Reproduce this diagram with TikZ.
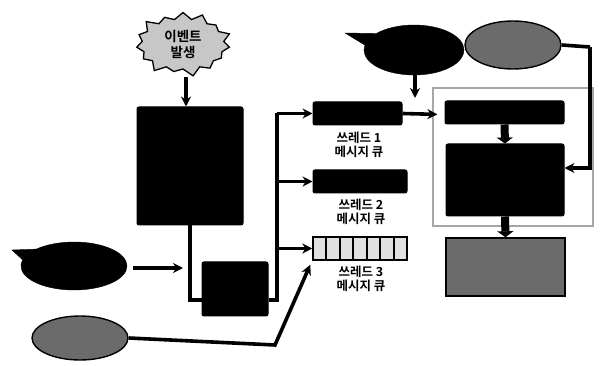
\documentclass[tikz,border=0pt]{standalone}
\usepackage{fontspec}
\newfontfamily\kr{Noto Sans CJK KR}[BoldFont={* Bold}]
\usetikzlibrary{shapes.symbols,shapes.callouts,shapes.geometric,arrows.meta,calc}
\tikzset{
  blk/.style={draw=black,fill=black,rounded corners=2pt,inner sep=0pt,line width=1pt},
  gry/.style={draw=black,fill=black!58,line width=1.4pt},
  conn/.style={line width=3.6pt,draw=black},
  arr/.style={conn,-{Stealth[length=10pt,width=10pt]}},
  fat/.style={line width=8pt,-{Triangle[length=6pt,width=16pt]}},
  lbl/.style={font=\kr\bfseries\fontsize{12.5}{14.5}\selectfont,align=center,inner sep=0pt}
}
\begin{document}
\begin{tikzpicture}[x=1pt,y=-1pt]
\useasboundingbox (0,0) rectangle (606,366);
% burst
\node[starburst,starburst points=15,starburst point height=9pt,draw=black,line width=1.3pt,
      fill=black!22,minimum width=100pt,minimum height=68pt,align=center,
      font=\kr\bfseries\fontsize{13.5}{16}\selectfont] (burst) at (183,44) {이벤트\\발생};
% big box and small box
\node[blk,minimum width=106pt,minimum height=118pt] (big) at (190,166) {};
\node[blk,minimum width=66pt,minimum height=54pt] (small) at (235,289) {};
% queues
\node[blk,minimum width=89pt,minimum height=23pt] (q1) at (357.5,113.5) {};
\node[blk,minimum width=94pt,minimum height=23pt] (q2) at (360,181.5) {};
\node[draw=black,fill=black!12,line width=1.5pt,minimum width=94pt,minimum height=23pt,inner sep=0pt] (q3) at (360,248.5) {};
\foreach \i in {1,...,6}
  \draw[line width=2pt] ($(q3.north west)!\i/7!(q3.north east)$) -- ($(q3.south west)!\i/7!(q3.south east)$);
\node[lbl] (l1) at (359,145) {쓰레드 1\\메시지 큐};
\node[lbl] (l2) at (361,212) {쓰레드 2\\메시지 큐};
\node[lbl] (l3) at (361,279) {쓰레드 3\\메시지 큐};
% right panel
\node[draw=black!35,line width=1.2pt,minimum width=160pt,minimum height=138pt,inner sep=0pt] (panel) at (513,157) {};
\node[blk,minimum width=119pt,minimum height=23pt] (bar) at (504.5,112.5) {};
\node[blk,minimum width=118pt,minimum height=72pt] (box) at (505,180) {};
\node[gry,minimum width=119pt,minimum height=58pt,inner sep=0pt] (out) at (505.5,267) {};
% ellipses
\coordinate (t1) at (12,250);
\node[ellipse callout,callout absolute pointer={(t1)},callout pointer arc=30,fill=black,draw=black,
      minimum width=106pt,minimum height=48pt] (e1) at (74,266) {};
\node[ellipse,gry,minimum width=96pt,minimum height=44pt] (e2) at (80,338) {};
\coordinate (t3) at (345,33);
\node[ellipse callout,callout absolute pointer={(t3)},callout pointer arc=30,fill=black,draw=black,
      minimum width=100pt,minimum height=50pt] (e3) at (414,50) {};
\node[ellipse,gry,minimum width=96pt,minimum height=48pt] (e4) at (513,45) {};
% connectors
\coordinate (bt) at (186,77);
\draw[arr] (bt) -- (bt |- big.north);
\draw[conn] (big.south) |- ($(small.west)+(0,11)$);
\coordinate (bus) at (277,0);
\draw[conn] ($(small.east)+(0,11)$) -| (bus |- q1.west);
\draw[arr] (bus |- q1.west) -- (q1.west);
\draw[arr] (bus |- q2.west) -- (q2.west);
\draw[arr] (bus |- q3.west) -- (q3.west);
\coordinate (hit) at (183,268);
\draw[arr] ($(e1.east)+(6,2)$) -- (hit);
\coordinate (k2) at (275,345);
\draw[arr] (e2.east) -- (k2) -- ($(q3.south west)+(-2,4)$);
\draw[arr] (q1.east) -- ($(panel.north west)+(5,27)$);
\coordinate (a3) at (415,98);
\draw[arr] (e3.south -| a3) -- (a3);
\coordinate (k4) at (590,47);
\draw[conn] (e4.east) -- (k4);
\draw[arr] (k4) |- ($(box.east)+(0,-12)$);
\draw[fat] (bar.south) -- (box.north);
\draw[fat] (box.south) -- (out.north);
\end{tikzpicture}
\end{document}
